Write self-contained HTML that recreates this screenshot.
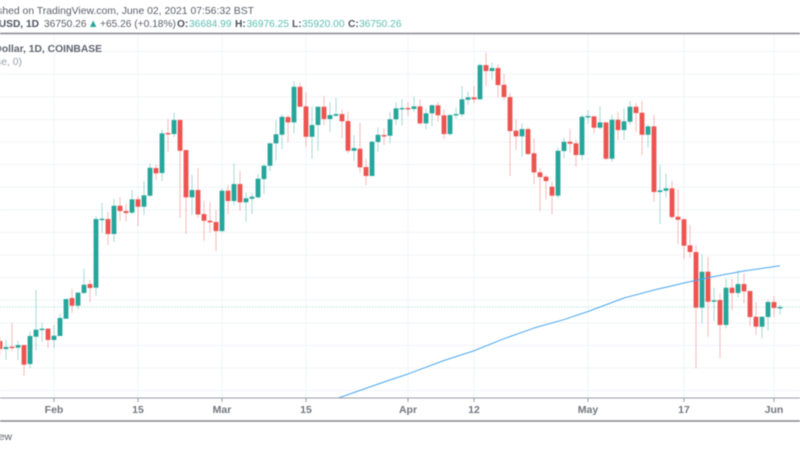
<!DOCTYPE html>
<html>
<head>
<meta charset="utf-8">
<title>BTCUSD chart</title>
<style>
html,body{margin:0;padding:0;background:#fff;width:800px;height:450px;overflow:hidden}
svg{display:block;filter:blur(0.45px)}
text{font-family:"Liberation Sans",sans-serif}
</style>
</head>
<body>
<svg id="chart" xmlns="http://www.w3.org/2000/svg" width="800" height="450" viewBox="0 0 800 450">
  <rect x="0" y="0" width="800" height="450" fill="#ffffff"/>
  <g id="grid"></g>
  <g id="plot"></g>
  <line x1="0" x2="800" y1="33.5" y2="33.5" stroke="#85878e" stroke-width="1.4"/>
  <line x1="0" x2="800" y1="398" y2="398" stroke="#9a9ca5" stroke-width="1.1"/>
  <g id="xaxis"></g>
  <line x1="0" x2="800" y1="421" y2="421" stroke="#85878e" stroke-width="1.4"/>
  <text x="254" y="14" text-anchor="end" font-size="10.4" fill="#5a5e69">Published on TradingView.com, June 02, 2021 07:56:32 BST</text>
  <text x="39" y="27" text-anchor="end" font-size="10.2" font-weight="bold" fill="#4c525e">BTCUSD, 1D</text>
  <text x="44" y="27" font-size="10.2" fill="#5a5e69">36750.26</text>
  <path d="M90 27 L93.2 20.5 L96.4 27 Z" fill="#26a69a"/>
  <text x="100" y="27" font-size="10.2" fill="#5a5e69">+65.26 (+0.18%)</text>
  <text x="177" y="27" font-size="10.2" font-weight="bold" fill="#4c525e">O:</text>
  <text x="189" y="27" font-size="10.2" fill="#5dbdb3">36684.99</text>
  <text x="235" y="27" font-size="10.2" font-weight="bold" fill="#4c525e">H:</text>
  <text x="246.5" y="27" font-size="10.2" fill="#5dbdb3">36976.25</text>
  <text x="292" y="27" font-size="10.2" font-weight="bold" fill="#4c525e">L:</text>
  <text x="302" y="27" font-size="10.2" fill="#5dbdb3">35920.00</text>
  <text x="348" y="27" font-size="10.2" font-weight="bold" fill="#4c525e">C:</text>
  <text x="359" y="27" font-size="10.2" fill="#5dbdb3">36750.26</text>
  <text x="102" y="52" text-anchor="end" font-size="10.3" font-weight="bold" fill="#5f636e">Bitcoin / U.S. Dollar, 1D, COINBASE</text>
  <text x="22" y="65" text-anchor="end" font-size="10.4" fill="#9a9da6">MA (200, close, 0)</text>
  <text x="12" y="440" text-anchor="end" font-size="10.4" fill="#5a5e69">View</text>
</svg>
<script>
const firstDate = '2021-01-23';
const opens = [
32990,32100,32360,32250,32540,30440,33460,34200,34350,
33100,33540,35450,37740,36890,38300,39290,38880,46400,46480,
44820,47950,47360,47180,48660,47840,49060,52120,51570,55990,
55880,57430,54110,48880,49690,47030,46290,46150,45150,49610,
48470,50350,48330,48720,48880,50900,52370,54850,55800,57760,
57170,61110,58940,55580,56880,58900,57540,57900,58090,57320,
54030,54250,52230,51240,55000,55770,55690,57510,58650,58760,
58650,58940,57060,58170,59060,57950,55880,57980,58060,59670,
59940,59720,63510,62850,63180,61330,59970,56250,55630,56430,
53750,51640,51160,50050,49060,54000,55030,54850,53560,57760,
57840,56580,57170,53150,57460,56320,57240,58900,58240,55800,
56730,49470,49610,49870,46730,46450,43570,42830,36670,40650,
37330,37520,34760,38880,38300,39290,38520,35670,34570,35640,
37300,36684.99];
const highs = [
33430,33100,34980,33020,32540,34020,38630,34980,34350,
34760,35970,37630,38740,38410,40980,39730,46810,48250,47290,
48690,48910,48170,49690,49020,50680,52640,52530,56320,57540,
58280,57540,54110,51380,52120,48470,48360,47470,49870,50240,
52640,51790,49430,49390,51460,52530,54920,57430,58090,57980,
61740,61600,60490,58900,58900,60080,59390,59900,58610,58350,
55770,57170,53190,55110,56620,56510,58350,59390,59720,59420,
60010,59720,58720,59170,59420,58610,58090,58830,61190,60560,
61190,63700,64870,63770,63590,62520,60450,57510,57060,56620,
55400,52090,51350,50600,54410,55470,56430,55220,57980,58530,
57840,58980,57170,57980,58350,58720,59530,59280,59530,56950,
57980,52450,51530,50720,49760,46560,45820,43600,42580,42310,
38880,38260,39920,39840,40840,40470,38520,37270,35670,37520,
37960,36976.25];
const lows = [
31440,30890,31880,30890,29150,30000,31910,32880,32210,
32210,33540,35450,36080,36530,38180,37300,37960,44960,43600,
43940,46260,46180,47030,45710,46920,48950,50790,50680,53920,
55520,46590,44820,46920,46590,44080,44960,42940,45010,47030,
48030,47400,46180,47030,48770,49240,51790,52930,54220,54960,
55960,58900,54480,53120,54030,56880,56130,57790,55400,53750,
52930,51600,50240,51240,53890,54660,54850,56880,56800,57870,
58350,56880,56400,56770,57240,55330,55660,57570,57790,59090,
59280,59720,61190,61930,59940,59640,51240,54110,53370,53560,
50320,47360,48660,47000,48770,53190,53810,52260,53000,56990,
55960,56400,53000,52820,55220,55220,56880,56130,53560,54410,
48390,45930,48840,46510,43710,42060,42200,29970,34940,33460,
35200,31070,34390,36410,37780,37160,34650,33650,33280,34130,
35670,35920];
const closes = [
32100,32320,32210,32540,30370,33540,34240,34350,33100,
33570,35530,37630,36890,38330,39210,38850,46480,46510,44820,
47950,47360,47140,48660,47840,49100,52150,51530,55960,55880,
57430,54030,48880,49690,46980,46290,46110,45150,49610,48470,
50350,48330,48770,48950,50940,52370,54850,55850,57790,57170,
61110,58900,55580,56880,58900,57540,57980,58090,57290,54030,
54330,52200,51240,55030,55800,55660,57510,58720,58760,58610,
58940,57060,58170,59060,57950,55880,57980,58090,59720,59940,
59720,63510,62850,63180,61300,59970,56210,55630,56430,53670,
51640,51120,50680,49060,54030,55030,54810,53560,57790,57870,
56580,57170,53150,57460,56320,57290,58900,58200,55800,56730,
49470,49650,49870,46700,46400,43530,42830,36670,40650,37330,
37490,34760,38880,38300,39290,38480,35640,34570,35670,37300,
36640,36750.26];
const maDates = ['2021-03-18','2021-03-23','2021-03-28','2021-04-01','2021-04-07','2021-04-12','2021-04-17','2021-04-22','2021-04-27','2021-05-01','2021-05-07','2021-05-12','2021-05-17','2021-05-22','2021-05-27','2021-06-02'];
const maValues = [26130,27290,28450,29340,30830,31910,33240,34420,35360,36250,37740,38630,39400,40120,40730,41310];
const gridPrices = [27500,30000,32500,35000,37500,40000,42500,45000,47500,50000,52500,55000,57500,60000,62500,65000];
const tickDates = ['2021-02-01','2021-02-15','2021-03-01','2021-03-15','2021-04-01','2021-04-12','2021-05-01','2021-05-17','2021-06-01'];
const tickLabels = ['Feb','15','Mar','15','Apr','12','May','17','Jun'];
const lastClose = 36750.26;

const NS = 'http://www.w3.org/2000/svg';
const PLOT_TOP = 34, PLOT_BOTTOM = 398;
const DAY_MS = 86400000;
function dayIndex(dateStr) { return (Date.parse(dateStr) - Date.parse(firstDate)) / DAY_MS; }
function xScale(i) { return 0 + 6 * i; }
function yScale(p) { return 368 - (p - 30000) * 0.00904; }
function make(tag, attrs, parent) {
  const el = document.createElementNS(NS, tag);
  for (const k in attrs) el.setAttribute(k, attrs[k]);
  parent.appendChild(el);
  return el;
}

const svg = document.getElementById('chart');
const defs = make('defs', {}, svg);
const clip = make('clipPath', { id: 'plot-clip' }, defs);
make('rect', { x: 0, y: PLOT_TOP, width: 800, height: PLOT_BOTTOM - PLOT_TOP }, clip);

const grid = document.getElementById('grid');
gridPrices.forEach(function (p) {
  const el = make('line', { x1: 0, x2: 800, y1: yScale(p), y2: yScale(p), stroke: '#f1f4f8', 'stroke-width': 1.1 }, grid);
  
  
});
tickDates.forEach(function (d) {
  const x = xScale(dayIndex(d));
  const el = make('line', { x1: x, x2: x, y1: PLOT_TOP, y2: PLOT_BOTTOM, stroke: '#f0f4f9', 'stroke-width': 1.1 }, grid);
  
  
});

const plot = document.getElementById('plot');
plot.setAttribute('clip-path', 'url(#plot-clip)');

const priceLine = make('line', { x1: 0, x2: 800, y1: yScale(lastClose), y2: yScale(lastClose), stroke: '#b5e3dd', 'stroke-width': 1, 'stroke-dasharray': '1.5 1.5' }, plot);



opens.forEach(function (o, i) {
  const c = closes[i];
  const up = c >= o;
  const color = up ? '#26a69a' : '#ef5350';
  const x = xScale(i);
  const g = make('g', {}, plot);
  
  
  const wick = make('line', { x1: x, x2: x, y1: yScale(highs[i]), y2: yScale(lows[i]), stroke: color, 'stroke-width': 1, 'stroke-opacity': 0.4 }, g);
  
  
  const top = yScale(Math.max(o, c));
  const h = Math.max(1.4, yScale(Math.min(o, c)) - top);
  const body = make('rect', { x: x - 2.4, y: top, width: 4.8, height: h, fill: color }, g);
  
  
});

const maPoints = maDates.map(function (d, i) { return xScale(dayIndex(d)) + ',' + yScale(maValues[i]); }).join(' ');
const maLine = make('polyline', { points: maPoints, fill: 'none', stroke: '#4aa8f0', 'stroke-width': 1, 'stroke-linejoin': 'round' }, plot);



const xaxis = document.getElementById('xaxis');
tickDates.forEach(function (d, i) {
  const x = xScale(dayIndex(d));
  const tick = make('line', { x1: x, x2: x, y1: PLOT_BOTTOM, y2: PLOT_BOTTOM + 4, stroke: '#9a9ca5', 'stroke-width': 1 }, xaxis);
  
  
  const label = make('text', { x: x, y: 413, 'text-anchor': 'middle', 'font-size': 10.5, 'fill': '#50535e', 'font-weight': 'bold', 'fill-opacity': 0.8 }, xaxis);
  
  
  label.textContent = tickLabels[i];
});
</script>
</body>
</html>
